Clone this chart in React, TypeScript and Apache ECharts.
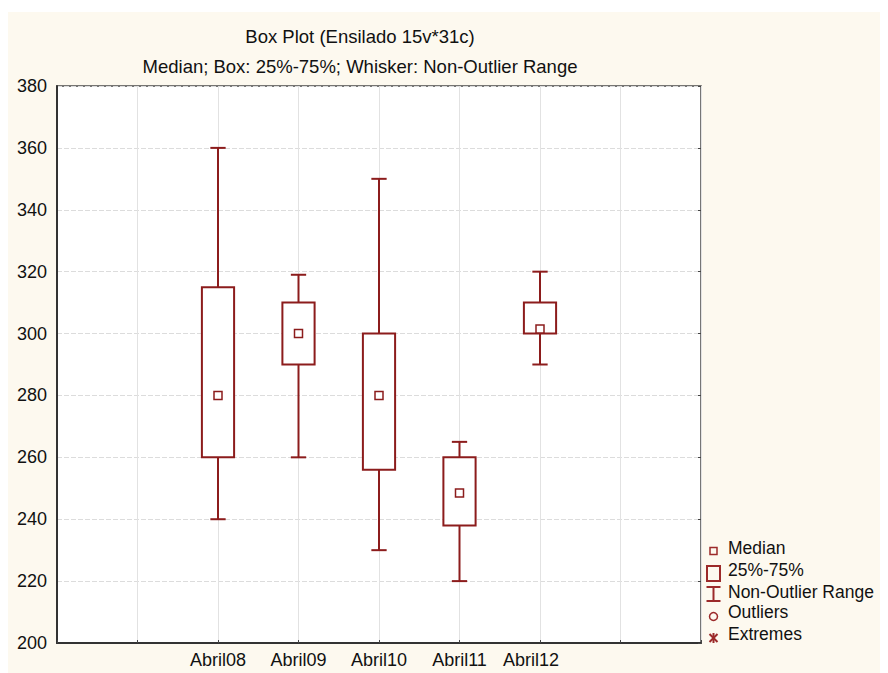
import React, { useEffect, useRef } from "react";
import * as echarts from "echarts";

const categories = ["Abril08", "Abril09", "Abril10", "Abril11", "Abril12"];
const firstSlot = 2;
const slotCount = 8;
const lowWhisker = [240, 260, 230, 220, 290];
const q1 = [260, 290, 256, 238, 300];
const median = [280, 300, 280, 248.5, 301.5];
const q3 = [315, 310, 300, 260, 310];
const highWhisker = [360, 319, 350, 265, 320];
const yMin = 200;
const yMax = 380;
const yStep = 20;

const legendItems = ["Median", "25%-75%", "Non-Outlier Range", "Outliers", "Extremes"];

const FONT = "'Liberation Sans', Arial, sans-serif";
const RED = "#8c1c1c";
const LRED = "#9c2a2a";

export default function App() {
  const ref = useRef<HTMLDivElement>(null);
  useEffect(() => {
    if (!ref.current) return;
    const chart = echarts.init(ref.current, null, { renderer: "svg" });
    const data = categories.map((_, i) => [
      i + firstSlot,
      lowWhisker[i],
      q1[i],
      median[i],
      q3[i],
      highWhisker[i],
    ]);
    const lx = 705.5;
    const tx = 720;
    const ly = [536, 558, 580, 600, 622];
    const ls = { stroke: LRED, lineWidth: 2, fill: "none" };
    const option: any = {
      animation: false,
      backgroundColor: "#fdf9ef",
      grid: {
        left: 49,
        top: 74,
        right: 187,
        bottom: 30,
        show: true,
        backgroundColor: "#ffffff",
        borderColor: "#4a4a4a",
        borderWidth: 1.5,
      },
      xAxis: {
        type: "value",
        min: 0,
        max: slotCount,
        interval: 1,
        axisLine: { show: true, lineStyle: { color: "#333", width: 2 } },
        axisTick: { show: true, inside: true, length: 3, lineStyle: { color: "#444" } },
        splitLine: { show: true, lineStyle: { color: "#e2e2e2", width: 1 } },
        axisLabel: {
          fontSize: 18,
          fontFamily: FONT,
          color: "#111",
          margin: 8,
          formatter: (v: number) => {
            const idx = v - firstSlot;
            if (idx < 0 || idx >= categories.length) return "";
            if (idx === categories.length - 1) return "{s|" + categories[idx] + "}";
            return categories[idx];
          },
          rich: {
            s: { fontSize: 18, fontFamily: FONT, color: "#111", padding: [0, 18, 0, 0] },
          },
        },
      },
      yAxis: [
        {
          type: "value",
          min: yMin,
          max: yMax,
          interval: yStep,
          axisLine: { show: true, lineStyle: { color: "#333", width: 2 } },
          axisTick: { show: false },
          splitLine: { show: true, lineStyle: { color: "#dcdcdc", width: 1, type: [5, 2] } },
          axisLabel: { fontSize: 18, fontFamily: FONT, color: "#111", margin: 10 },
        },
        {
          type: "value",
          position: "right",
          min: yMin,
          max: yMax,
          interval: yStep,
          axisLine: { show: false },
          axisTick: { show: true, inside: true, length: 3, lineStyle: { color: "#444" } },
          splitLine: { show: false },
          axisLabel: { show: false },
        },
      ],
      series: [
        {
          type: "custom",
          data,
          encode: { x: 0, y: [1, 2, 3, 4, 5] },
          renderItem: (params: any, api: any) => {
            const x = api.value(0);
            const lo = api.coord([x, api.value(1)]);
            const b1 = api.coord([x, api.value(2)]);
            const md = api.coord([x, api.value(3)]);
            const b3 = api.coord([x, api.value(4)]);
            const hi = api.coord([x, api.value(5)]);
            const slot = api.size([1, 0])[0];
            const boxW = slot * 0.4;
            const capW = slot * 0.19;
            const ms = 8;
            const cx = lo[0];
            const st = { stroke: RED, lineWidth: 2 };
            return {
              type: "group",
              children: [
                { type: "line", shape: { x1: cx, y1: hi[1], x2: cx, y2: b3[1] }, style: st },
                { type: "line", shape: { x1: cx, y1: b1[1], x2: cx, y2: lo[1] }, style: st },
                { type: "line", shape: { x1: cx - capW / 2, y1: hi[1], x2: cx + capW / 2, y2: hi[1] }, style: st },
                { type: "line", shape: { x1: cx - capW / 2, y1: lo[1], x2: cx + capW / 2, y2: lo[1] }, style: st },
                {
                  type: "rect",
                  shape: { x: cx - boxW / 2, y: b3[1], width: boxW, height: b1[1] - b3[1] },
                  style: { fill: "#ffffff", stroke: RED, lineWidth: 2 },
                },
                {
                  type: "rect",
                  shape: { x: cx - ms / 2, y: md[1] - ms / 2, width: ms, height: ms },
                  style: { fill: "#ffffff", stroke: RED, lineWidth: 1.5 },
                },
              ],
            };
          },
        },
      ],
      graphic: [
        {
          type: "text",
          x: 352,
          y: 24.5,
          style: {
            text: "Box Plot (Ensilado 15v*31c)",
            fontSize: 18.5,
            fontFamily: FONT,
            fill: "#111",
            align: "center",
            verticalAlign: "middle",
          },
        },
        {
          type: "text",
          x: 352,
          y: 54,
          style: {
            text: "Median; Box: 25%-75%; Whisker: Non-Outlier Range",
            fontSize: 18.5,
            fontFamily: FONT,
            fill: "#111",
            align: "center",
            verticalAlign: "middle",
          },
        },
        ...legendItems.map((t, i) => ({
          type: "text",
          x: tx,
          y: ly[i],
          style: {
            text: t,
            fontSize: 17.5,
            fontFamily: FONT,
            fill: "#111",
            align: "left",
            verticalAlign: "middle",
          },
        })),
        { type: "rect", shape: { x: lx - 3.5, y: 539 - 3.5, width: 7, height: 7 }, style: { ...ls, lineWidth: 1.5 } },
        { type: "rect", shape: { x: lx - 6.5, y: 554, width: 13, height: 15 }, style: ls },
        { type: "line", shape: { x1: lx - 7, y1: 575, x2: lx + 7, y2: 575 }, style: ls },
        { type: "line", shape: { x1: lx - 7, y1: 589, x2: lx + 7, y2: 589 }, style: ls },
        { type: "line", shape: { x1: lx, y1: 575, x2: lx, y2: 589 }, style: ls },
        { type: "circle", shape: { cx: lx, cy: 604.5, r: 4 }, style: { ...ls, lineWidth: 1.5 } },
        { type: "line", shape: { x1: lx - 4, y1: 622, x2: lx + 4, y2: 630 }, style: ls },
        { type: "line", shape: { x1: lx - 4, y1: 630, x2: lx + 4, y2: 622 }, style: ls },
        { type: "line", shape: { x1: lx, y1: 621, x2: lx, y2: 631 }, style: ls },
      ],
    };
    chart.setOption(option);
    return () => chart.dispose();
  }, []);
  return (
    <div style={{ paddingTop: 4 }}>
      <div ref={ref} style={{ width: 880, height: 661 }} />
    </div>
  );
}
